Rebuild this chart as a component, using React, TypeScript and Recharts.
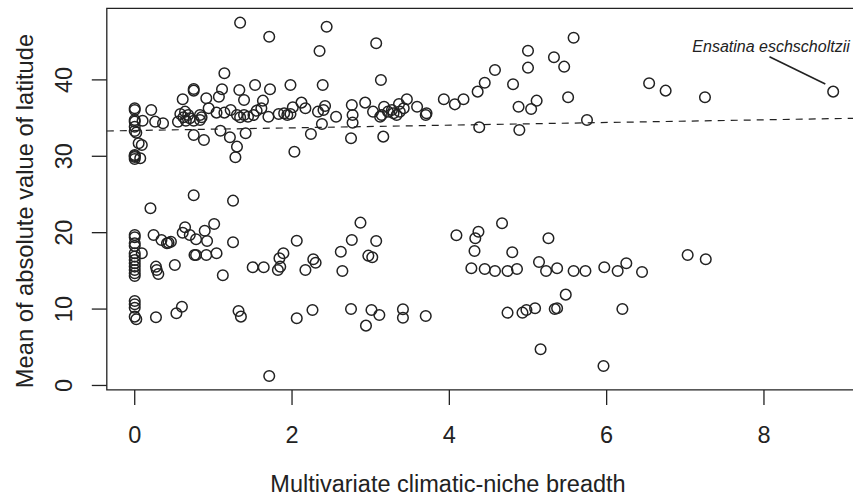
import React from 'react';
import { ScatterChart, Scatter, XAxis, YAxis, ReferenceLine, ReferenceArea, ReferenceDot } from 'recharts';

// Upper band of species (higher latitudes)
const upperBand: [number, number][] = [
  [1.34,47.49],[1.71,45.65],[1.14,40.86],[0.75,38.59],[0.75,38.8],[1.11,38.77],[1.33,38.68],[1.53,39.33],[1.72,38.77],[1.98,39.33],
  [0.61,37.46],[0.91,37.59],[1.07,37.8],[1.39,37.37],[1.63,37.28],[0,36.28],[0,36.06],[0.21,36.06],[0.94,36.28],[2.01,36.41],
  [0.58,35.54],[0.64,35.84],[0.68,35.41],[0.62,35.1],[0.7,34.97],[0.83,35.41],[0.85,35.1],[1.04,35.71],[1.14,35.71],[1.22,36.06],
  [1.3,35.41],[1.34,35.1],[1.39,35.41],[1.44,35.18],[1.51,35.41],[1.55,35.97],[1.61,36.28],[1.7,35.18],[1.83,35.54],[1.9,35.63],
  [1.94,35.41],[1.98,35.54],[0,34.75],[0,34.53],[0.1,34.66],[0.26,34.53],[0.36,34.32],[0.55,34.53],[0.65,34.66],[0.75,34.66],
  [0.83,34.75],[0,33.87],[0,33.31],[0.02,33.09],[1.09,33.35],[0.75,32.79],[0.88,32.13],[1.21,32.49],[1.41,33.01],[0.05,31.7],
  [0.09,31.48],[1.3,31.26],[0,30.17],[0,29.91],[0,29.65],[0,30.04],[0.07,29.74],[1.28,29.87],[2.03,30.6],[0.75,24.9],
  [1.25,24.19],[0.2,23.19],
  [2.44,46.96],[2.35,43.78],[3.07,44.79],[2.39,39.33],[3.13,39.99],[2.12,37.02],[2.17,36.28],[2.33,35.84],[2.4,36.06],[2.42,36.58],
  [2.56,35.18],[2.76,36.71],[2.77,35.41],[2.77,34.4],[2.93,37.02],[3.03,35.84],[3.14,35.41],[3.12,35.18],[3.17,36.49],[3.22,35.84],
  [3.27,36.06],[3.29,35.63],[3.33,35.41],[3.37,35.84],[3.36,36.85],[3.42,36.28],[3.46,37.46],[3.59,36.49],[3.7,35.41],[3.71,35.63],
  [2.38,34.23],[2.24,32.92],[2.75,32.36],[3.16,32.57],[3.93,37.46],[4.07,36.8],[4.18,37.46],[4.36,38.46],[4.45,39.63],[4.38,33.8],
  [4.58,41.3],[5.58,45.52],[5.0,43.82],[5.33,42.96],[5.0,41.6],[5.46,41.73],[4.81,39.42],[6.54,39.55],[6.75,38.59],[5.51,37.72],
  [5.11,37.28],[4.88,36.49],[5.04,36.19],[5.75,34.75],[4.89,33.44],[7.25,37.72],
];

// Lower band of species (lower latitudes)
const lowerBand: [number, number][] = [
  [0,19.7],[0,19.4],[0,18.61],[0,18.26],[0.09,17.3],[0,17.3],[0,16.87],[0,16.43],[0,16.0],[0,15.56],
  [0,15.12],[0,14.69],[0,14.33],[0.24,19.7],[0.34,19.04],[0.43,18.69],[0.46,18.82],[0.41,18.61],[0.27,15.55],[0.28,15.12],
  [0.3,14.59],[0.51,15.77],[0.61,20.0],[0.64,20.71],[0.7,19.7],[0.78,19.14],[0.89,20.26],[0.92,18.91],[1.01,21.14],[0.76,17.08],
  [0.78,17.08],[0.91,17.08],[1.04,17.3],[1.12,14.42],[1.25,18.74],[1.5,15.47],[1.64,15.47],[1.82,15.12],[1.85,15.55],[1.84,16.65],
  [1.89,17.3],[2.06,18.95],[0,11.06],[0,10.63],[0,10.18],[0,9.01],[0.02,8.66],[0.27,8.93],[0.53,9.45],[0.6,10.31],
  [1.32,9.75],[1.35,9.01],[2.06,8.8],[1.71,1.24],
  [2.27,16.52],[2.3,16.07],[2.17,15.12],[2.87,21.31],[2.76,19.04],[2.62,17.51],[3.07,18.91],[2.97,16.99],[3.02,16.78],[2.64,14.99],
  [4.09,19.66],[4.37,20.13],[4.33,19.27],[4.32,17.6],[4.28,15.34],[4.45,15.25],[2.26,9.88],[2.75,10.01],[3.01,9.88],[3.11,9.23],
  [2.94,7.83],[3.41,9.97],[3.41,8.87],[3.7,9.1],
  [4.67,21.23],[5.26,19.27],[4.8,17.43],[4.58,14.99],[4.74,14.99],[4.86,15.25],[5.14,16.16],[5.23,14.99],[5.37,15.34],[5.58,14.99],
  [5.73,14.99],[5.97,15.47],[6.14,14.99],[6.25,15.99],[6.45,14.86],[5.48,11.89],[4.74,9.53],[4.93,9.53],[4.98,9.88],[5.09,10.1],
  [5.34,10.01],[5.37,10.1],[6.2,10.01],[5.16,4.74],[5.96,2.55],[7.03,17.08],[7.26,16.52],
];

const highlighted: [number, number][] = [[8.88, 38.46]];
const highlightName = 'Ensatina eschscholtzii';
const labelAnchor = { x: 8.09, y: 43.65 };
const leaderLine = [{ x: 8.07, y: 43.04 }, { x: 8.78, y: 39.46 }];
const regressionLine = [{ x: -0.355, y: 33.31 }, { x: 9.235, y: 34.99 }];

const xTicks = [0, 2, 4, 6, 8];
const yTicks = [0, 10, 20, 30, 40];
const xDomain: [number, number] = [-0.355, 9.235];
const yDomain: [number, number] = [-0.58, 49.37];

const toPoints = (arr: [number, number][]) => arr.map(([x, y]) => ({ x, y }));

const INK = '#222';
const FONT = '"Liberation Sans", Arial, Helvetica, sans-serif';

const OpenCircle = (p: any) => (
  <circle cx={p.cx} cy={p.cy} r={5.3} fill="none" stroke={INK} strokeWidth={1.5} />
);

const XTick = (p: any) => (
  <text x={p.payload.coordinate} y={443} textAnchor="middle" fontSize={23.5} fontFamily={FONT} fill={INK}>
    {p.payload.value}
  </text>
);

const YTick = (p: any) => {
  const cy = p.payload.coordinate;
  return (
    <text x={72} y={cy} transform={`rotate(-90 72 ${cy})`} textAnchor="middle" fontSize={23.5} fontFamily={FONT} fill={INK}>
      {p.payload.value}
    </text>
  );
};

export default function App() {
  return (
    <div style={{ position: 'absolute', left: 0, top: 0, width: 853, height: 498, overflow: 'hidden', background: '#fff' }}>
      <ScatterChart width={880} height={498} margin={{ top: 8.3, right: 18.9, bottom: 0, left: 0 }}>
        <XAxis
          type="number"
          dataKey="x"
          domain={xDomain}
          ticks={xTicks}
          allowDataOverflow
          height={108.1}
          axisLine={false}
          tickSize={15}
          tickLine={{ stroke: INK, strokeWidth: 1.3 }}
          tick={XTick}
          interval={0}
        />
        <YAxis
          type="number"
          dataKey="y"
          domain={yDomain}
          ticks={yTicks}
          allowDataOverflow
          width={106.8}
          axisLine={false}
          tickSize={15}
          tickLine={{ stroke: INK, strokeWidth: 1.3 }}
          tick={YTick}
          interval={0}
        />
        <ReferenceArea x1={xDomain[0]} x2={xDomain[1]} y1={yDomain[0]} y2={yDomain[1]} fill="none" fillOpacity={0} stroke={INK} strokeWidth={1.3} />
        <ReferenceLine segment={regressionLine} stroke={INK} strokeWidth={1.2} strokeDasharray="7 6" />
        <ReferenceLine segment={leaderLine} stroke={INK} strokeWidth={1.6} />
        <Scatter data={toPoints(upperBand)} shape={OpenCircle} isAnimationActive={false} />
        <Scatter data={toPoints(lowerBand)} shape={OpenCircle} isAnimationActive={false} />
        <Scatter data={toPoints(highlighted)} shape={OpenCircle} isAnimationActive={false} />
        <ReferenceDot
          x={labelAnchor.x}
          y={labelAnchor.y}
          r={0}
          shape={(p: any) => (
            <text x={p.cx} y={p.cy} textAnchor="middle" fontSize={16} fontStyle="italic" fontFamily={FONT} fill={INK}>
              {highlightName}
            </text>
          )}
        />
        <text x={448} y={492} textAnchor="middle" fontSize={23.5} fontFamily={FONT} fill={INK}>
          Multivariate climatic-niche breadth
        </text>
        <text x={33} y={211} transform="rotate(-90 33 211)" textAnchor="middle" fontSize={23.7} fontFamily={FONT} fill={INK}>
          Mean of absolute value of latitude
        </text>
      </ScatterChart>
    </div>
  );
}
